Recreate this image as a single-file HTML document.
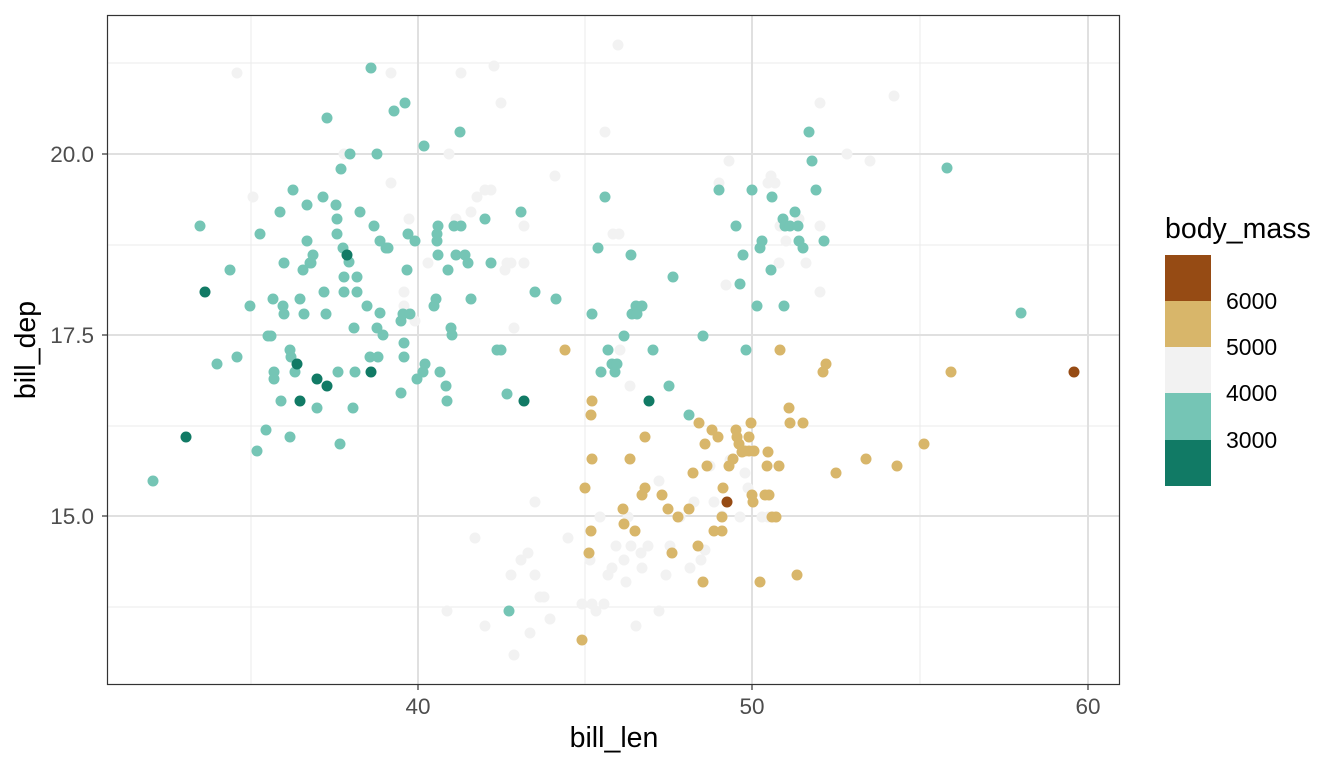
<!DOCTYPE html>
<html><head><meta charset="utf-8"><style>
body{margin:0;background:#fff;}
svg{display:block;font-family:"Liberation Sans",sans-serif;}
</style></head><body>
<svg id="s" width="1344" height="768" xmlns="http://www.w3.org/2000/svg">
<rect x="0" y="0" width="1344" height="768" fill="#fff"/>
<g stroke="#ebebeb" stroke-width="1">
<line x1="251" y1="15" x2="251" y2="685"/><line x1="585" y1="15" x2="585" y2="685"/><line x1="920" y1="15" x2="920" y2="685"/>
<line x1="107" y1="63" x2="1120" y2="63"/><line x1="107" y1="245" x2="1120" y2="245"/><line x1="107" y1="426" x2="1120" y2="426"/><line x1="107" y1="607" x2="1120" y2="607"/>
</g>
<g stroke="#e0e0e0" stroke-width="2">
<line x1="418" y1="15" x2="418" y2="685"/><line x1="752" y1="15" x2="752" y2="685"/><line x1="1088" y1="15" x2="1088" y2="685"/>
<line x1="107" y1="154" x2="1120" y2="154"/><line x1="107" y1="335" x2="1120" y2="335"/><line x1="107" y1="516" x2="1120" y2="516"/>
</g>
<g id="pts"></g>
<rect x="107.5" y="15.5" width="1012" height="669" fill="none" stroke="#333" stroke-width="1.2"/>
<g stroke="#333" stroke-width="1.2">
<line x1="418" y1="685" x2="418" y2="690"/><line x1="752" y1="685" x2="752" y2="690"/><line x1="1088" y1="685" x2="1088" y2="690"/>
<line x1="102" y1="154" x2="107" y2="154"/><line x1="102" y1="335" x2="107" y2="335"/><line x1="102" y1="516" x2="107" y2="516"/>
</g>
<g font-size="22.5" fill="#4d4d4d">
<text x="418" y="714" text-anchor="middle">40</text><text x="752" y="714" text-anchor="middle">50</text><text x="1088" y="714" text-anchor="middle">60</text>
<text x="94" y="162" text-anchor="end">20.0</text><text x="94" y="343" text-anchor="end">17.5</text><text x="94" y="524" text-anchor="end">15.0</text>
</g>
<text x="614" y="747" text-anchor="middle" font-size="28.5" fill="#000">bill_len</text>
<text transform="translate(35,350) rotate(-90)" text-anchor="middle" font-size="28.5" fill="#000">bill_dep</text>
<text x="1165" y="238" font-size="28.5" fill="#000">body_mass</text>
<rect x="1165" y="255" width="46" height="46" fill="#964b14"/>
<rect x="1165" y="301" width="46" height="46" fill="#d8b66a"/>
<rect x="1165" y="347" width="46" height="46" fill="#f2f2f2"/>
<rect x="1165" y="393" width="46" height="47" fill="#75c5b5"/>
<rect x="1165" y="440" width="46" height="46" fill="#117a65"/>
<g font-size="23" fill="#000">
<text x="1226" y="309">6000</text><text x="1226" y="355">5000</text><text x="1226" y="401">4000</text><text x="1226" y="448">3000</text>
</g>
</svg>
<script>
var light=[[237,73],[253,197],[391,73],[391,183],[344,154],[409,219],[404,292],[404,306],[415,321],[428,263],[449,154],[456,219],[461,73],[471,212],[477,197],[485,190],[491,190],[494,66],[501,103],[505,270],[507,263],[511,263],[514,328],[524,226],[524,263],[535,502],[555,176],[605,132],[618,45],[613,234],[619,234],[620,350],[630,386],[659,481],[475,538],[447,611],[485,626],[511,575],[514,655],[521,560],[528,553],[530,633],[535,575],[540,597],[544,597],[550,619],[568,538],[582,604],[590,560],[592,604],[596,611],[600,517],[604,604],[608,575],[612,568],[616,546],[624,560],[626,582],[628,517],[631,546],[636,626],[641,553],[642,568],[648,546],[659,611],[666,575],[670,546],[680,517],[690,568],[694,502],[701,560],[705,550],[710,466],[714,502],[722,516],[730,460],[740,517],[745,473],[748,488],[762,517],[768,183],[771,176],[775,183],[780,226],[786,241],[799,219],[779,263],[806,263],[820,226],[820,292],[820,103],[847,154],[870,161],[894,96],[726,285],[729,161],[719,183],[768,517]];
var teal=[[153,481],[200,226],[217,364],[230,270],[237,357],[250,306],[257,451],[260,234],[266,430],[268,336],[271,336],[273,299],[274,372],[274,379],[280,212],[281,401],[283,306],[284,314],[284,263],[290,350],[290,437],[291,357],[293,190],[295,372],[300,299],[303,270],[304,314],[307,205],[307,241],[310,263],[311,263],[313,255],[317,408],[323,197],[324,292],[326,314],[327,118],[336,205],[337,234],[337,219],[338,372],[340,444],[341,169],[343,248],[344,292],[344,277],[349,262],[350,154],[353,408],[354,328],[355,372],[357,292],[357,277],[360,212],[367,306],[370,357],[371,68],[374,226],[377,328],[377,154],[378,357],[380,241],[380,313],[383,335],[386,248],[388,248],[394,111],[401,393],[401,321],[403,314],[404,357],[404,343],[405,103],[407,270],[408,234],[410,314],[415,241],[417,379],[423,372],[424,146],[425,364],[434,306],[436,299],[437,234],[437,241],[438,255],[438,226],[440,372],[446,386],[447,401],[448,270],[451,328],[452,335],[454,226],[456,255],[460,132],[461,226],[465,255],[468,263],[471,299],[485,219],[491,263],[497,350],[501,350],[507,394],[509,611],[521,212],[535,292],[556,299],[592,314],[598,248],[601,372],[605,197],[608,350],[612,364],[615,372],[617,364],[624,336],[631,255],[632,314],[636,306],[637,314],[642,306],[653,350],[669,386],[673,277],[689,415],[703,336],[719,190],[736,226],[740,284],[743,255],[746,350],[752,190],[757,306],[760,248],[762,241],[771,270],[772,197],[783,219],[784,306],[785,226],[790,226],[795,212],[798,226],[799,241],[803,248],[809,132],[812,161],[816,190],[824,241],[947,168],[1021,313]];
var tan=[[565,350],[582,640],[585,488],[589,553],[591,531],[591,415],[592,401],[592,459],[623,509],[624,524],[630,459],[635,531],[642,495],[645,488],[645,437],[662,495],[668,509],[672,553],[678,517],[689,509],[693,473],[698,546],[699,423],[703,582],[705,444],[707,466],[712,430],[714,531],[718,437],[722,517],[722,531],[723,488],[729,466],[733,459],[736,430],[737,437],[739,444],[742,452],[745,451],[749,451],[749,437],[751,423],[752,495],[753,502],[754,451],[760,582],[765,495],[767,466],[768,452],[769,495],[772,517],[776,517],[779,466],[780,350],[789,408],[790,423],[803,423],[797,575],[823,372],[826,364],[836,473],[866,459],[897,466],[924,444],[951,372]];
var dark=[[205,292],[186,437],[297,364],[300,401],[317,379],[327,386],[347,255],[371,372],[524,401],[649,401]];
var brown=[[1074,372],[727,502]];
var g=document.getElementById('pts'),h='';
[[light,'#f2f2f2'],[teal,'#75c5b5'],[tan,'#d8b66a'],[dark,'#117a65'],[brown,'#964b14']].forEach(function(s){s[0].forEach(function(p){h+='<circle cx="'+p[0]+'" cy="'+p[1]+'" r="5.5" fill="'+s[1]+'"/>';});});
g.innerHTML=h;
</script>
</body></html>
